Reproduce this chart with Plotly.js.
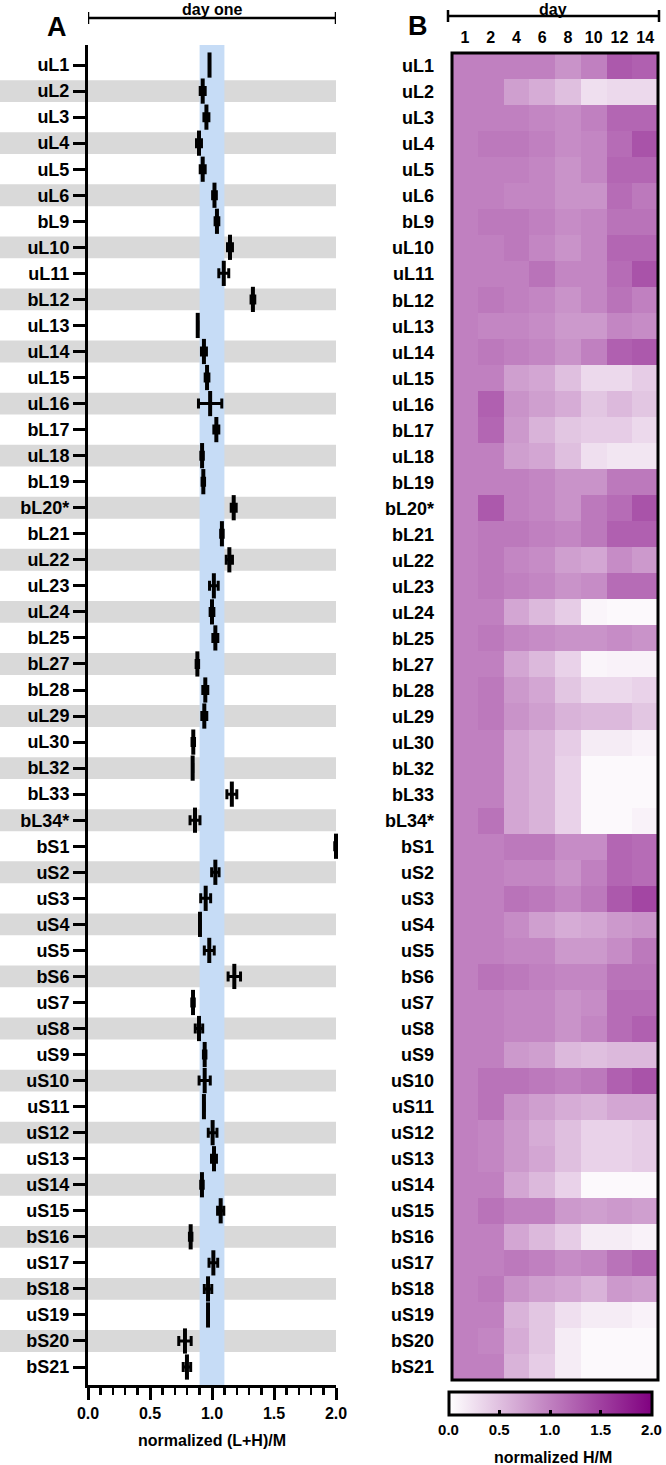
<!DOCTYPE html>
<html>
<head>
<meta charset="utf-8">
<script src="https://cdn.plot.ly/plotly-3.0.1.min.js"></script>
<style>
  body { margin: 0; background: #fff; }
  #chart { width: 666px; height: 1465px; }
</style>
</head>
<body>
<div id="chart"></div>
<script>
// ribosomal proteins, top to bottom
const proteins = [
    'uL1', 'uL2', 'uL3', 'uL4', 'uL5', 'uL6', 'bL9', 'uL10', 'uL11', 'bL12',
    'uL13', 'uL14', 'uL15', 'uL16', 'bL17', 'uL18', 'bL19', 'bL20*', 'bL21', 'uL22',
    'uL23', 'uL24', 'bL25', 'bL27', 'bL28', 'uL29', 'uL30', 'bL32', 'bL33', 'bL34*',
    'bS1', 'uS2', 'uS3', 'uS4', 'uS5', 'bS6', 'uS7', 'uS8', 'uS9', 'uS10',
    'uS11', 'uS12', 'uS13', 'uS14', 'uS15', 'bS16', 'uS17', 'bS18', 'uS19', 'bS20',
    'bS21'
];

// panel A : day one normalized (L+H)/M, mean and SD
const dayOneMean = [
    0.98, 0.925, 0.955, 0.895, 0.925, 1.02, 1.04, 1.145, 1.095, 1.33,
    0.885, 0.935, 0.96, 0.985, 1.035, 0.92, 0.93, 1.175, 1.08, 1.14,
    1.015, 1.0, 1.027, 0.882, 0.946, 0.938, 0.849, 0.844, 1.16, 0.863,
    2.0, 1.027, 0.949, 0.903, 0.978, 1.18, 0.847, 0.895, 0.941, 0.941,
    0.935, 1.005, 1.016, 0.919, 1.07, 0.828, 1.011, 0.968, 0.968, 0.782,
    0.798
];
const dayOneSD = [
    0, 0.02, 0.02, 0.02, 0.02, 0.015, 0.015, 0.02, 0.04, 0.015,
    0, 0.02, 0.015, 0.094, 0.02, 0.01, 0.01, 0.02, 0.01, 0.025,
    0.035, 0.015, 0.02, 0.01, 0.02, 0.02, 0.01, 0, 0.04, 0.04,
    0.01, 0.03, 0.04, 0, 0.04, 0.05, 0.01, 0.03, 0.01, 0.045,
    0, 0.035, 0.02, 0.01, 0.025, 0.01, 0.035, 0.03, 0, 0.05,
    0.03
];

// panel B : normalized H/M per day
const days = ['1', '2', '4', '6', '8', '10', '12', '14'];
const heavyOverMedium = [
    [1.0, 1.0, 1.0, 1.0, 0.85, 1.0, 1.3, 1.25],      // uL1
    [1.0, 1.0, 0.75, 0.65, 0.5, 0.25, 0.3, 0.3],     // uL2
    [1.0, 1.0, 1.0, 0.95, 0.9, 1.0, 1.2, 1.2],       // uL3
    [1.0, 1.05, 1.05, 1.0, 0.9, 0.95, 1.15, 1.35],   // uL4
    [1.0, 1.0, 1.0, 0.95, 0.85, 0.95, 1.2, 1.2],     // uL5
    [1.0, 1.0, 0.95, 0.95, 0.85, 0.85, 1.15, 1.05],  // uL6
    [1.0, 1.05, 1.05, 1.0, 0.9, 0.95, 1.1, 1.1],     // bL9
    [1.0, 1.0, 1.05, 0.95, 0.85, 0.95, 1.2, 1.2],    // uL10
    [1.0, 1.0, 1.0, 1.1, 0.95, 0.95, 1.15, 1.35],    // uL11
    [1.0, 1.05, 1.0, 0.95, 0.85, 0.95, 1.1, 1.0],    // bL12
    [1.0, 0.95, 0.95, 0.9, 0.8, 0.8, 0.95, 0.9],     // uL13
    [1.0, 1.05, 1.0, 0.95, 0.85, 1.0, 1.25, 1.3],    // uL14
    [1.0, 1.0, 0.75, 0.7, 0.5, 0.3, 0.3, 0.4],       // uL15
    [1.0, 1.25, 0.85, 0.75, 0.65, 0.45, 0.55, 0.45], // uL16
    [1.0, 1.2, 0.8, 0.6, 0.45, 0.4, 0.4, 0.3],       // bL17
    [1.0, 1.0, 0.75, 0.7, 0.5, 0.25, 0.2, 0.2],      // uL18
    [1.0, 1.0, 1.0, 0.95, 0.85, 0.85, 1.05, 1.05],   // bL19
    [1.0, 1.3, 1.0, 0.95, 0.85, 1.05, 1.15, 1.35],   // bL20*
    [1.0, 1.05, 1.05, 1.0, 0.95, 1.05, 1.25, 1.25],  // bL21
    [1.0, 1.05, 0.95, 0.9, 0.75, 0.7, 0.9, 0.8],     // uL22
    [1.0, 1.05, 1.0, 0.95, 0.85, 0.9, 1.15, 1.15],   // uL23
    [1.0, 1.0, 0.7, 0.55, 0.4, 0.08, 0.05, 0.05],    // uL24
    [1.0, 1.05, 0.95, 0.9, 0.85, 0.85, 0.9, 0.85],   // bL25
    [1.0, 1.0, 0.7, 0.55, 0.35, 0.08, 0.1, 0.1],     // bL27
    [1.0, 1.05, 0.8, 0.7, 0.45, 0.3, 0.3, 0.35],     // bL28
    [1.0, 1.05, 0.85, 0.75, 0.6, 0.55, 0.55, 0.45],  // uL29
    [1.0, 1.0, 0.7, 0.6, 0.4, 0.15, 0.15, 0.1],      // uL30
    [1.0, 1.0, 0.7, 0.6, 0.35, 0.05, 0.05, 0.05],    // bL32
    [1.0, 1.0, 0.7, 0.6, 0.35, 0.05, 0.05, 0.05],    // bL33
    [1.0, 1.1, 0.7, 0.6, 0.35, 0.05, 0.05, 0.1],     // bL34*
    [1.0, 1.0, 1.05, 1.05, 0.9, 0.9, 1.2, 1.15],     // bS1
    [1.0, 1.0, 0.95, 0.95, 0.85, 1.0, 1.2, 1.15],    // uS2
    [1.0, 1.0, 1.1, 1.05, 0.95, 1.05, 1.3, 1.45],    // uS3
    [1.0, 1.0, 0.9, 0.75, 0.65, 0.7, 0.8, 0.85],     // uS4
    [1.0, 1.0, 0.95, 0.95, 0.8, 0.8, 0.9, 1.05],     // uS5
    [1.0, 1.1, 1.05, 1.0, 0.95, 0.95, 1.1, 1.1],     // bS6
    [1.0, 1.0, 0.95, 0.95, 0.85, 0.9, 1.15, 1.15],   // uS7
    [1.0, 1.0, 0.95, 0.95, 0.85, 0.95, 1.15, 1.25],  // uS8
    [1.0, 1.0, 0.8, 0.75, 0.55, 0.5, 0.55, 0.55],    // uS9
    [1.0, 1.1, 1.1, 1.05, 1.0, 1.05, 1.25, 1.35],    // uS10
    [1.0, 1.1, 0.85, 0.75, 0.65, 0.6, 0.7, 0.7],     // uS11
    [1.0, 0.95, 0.8, 0.65, 0.5, 0.35, 0.35, 0.4],    // uS12
    [1.0, 0.95, 0.8, 0.7, 0.5, 0.35, 0.35, 0.4],     // uS13
    [1.0, 1.0, 0.7, 0.55, 0.35, 0.05, 0.05, 0.05],   // uS14
    [1.0, 1.1, 1.0, 1.0, 0.8, 0.75, 0.8, 0.75],      // uS15
    [1.0, 1.0, 0.7, 0.55, 0.4, 0.15, 0.15, 0.1],     // bS16
    [1.0, 1.0, 1.05, 1.0, 0.9, 0.95, 1.1, 1.2],      // uS17
    [1.0, 1.05, 0.85, 0.75, 0.7, 0.6, 0.8, 0.75],    // bS18
    [1.0, 1.0, 0.6, 0.45, 0.25, 0.15, 0.15, 0.1],    // uS19
    [1.0, 0.95, 0.65, 0.45, 0.15, 0.05, 0.05, 0.05], // bS20
    [1.0, 1.0, 0.6, 0.4, 0.15, 0.05, 0.05, 0.05]     // bS21
];
const colorbarTicks = [0, 0.5, 1.0, 1.5, 2.0];

const W = 666, H = 1465;
const px = v => v / W;          // pixel -> paper x
const py = v => 1 - v / H;      // pixel -> paper y (from top)

const boldFont = (size) => ({ family: 'Liberation Sans, Arial, sans-serif', size: size, color: '#000', weight: 'bold' });

const dots = {
    type: 'scatter',
    mode: 'markers',
    x: dayOneMean,
    y: proteins,
    xaxis: 'x',
    yaxis: 'y',
    cliponaxis: false,
    marker: { symbol: 'line-ns', size: 18, color: '#000', line: { color: '#000', width: 4 } },
    error_x: { type: 'data', array: dayOneSD, visible: true, color: '#000', thickness: 3, width: 5 },
    hoverinfo: 'x+y'
};

const heat = {
    type: 'heatmap',
    z: heavyOverMedium,
    x: days,
    y: proteins,
    xaxis: 'x2',
    yaxis: 'y2',
    zmin: 0,
    zmax: 2,
    colorscale: [[0, '#ffffff'], [1, '#800080']],
    colorbar: {
        orientation: 'h',
        x: px(550), xanchor: 'center',
        y: py(1392), yanchor: 'top',
        lenmode: 'pixels', len: 203,
        thickness: 23,
        outlinewidth: 3, outlinecolor: '#000',
        xpad: 0, ypad: 0,
        ticks: 'inside', ticklen: 6, tickwidth: 3, tickcolor: '#000',
        tickmode: 'array',
        tickvals: colorbarTicks,
        ticktext: colorbarTicks.map(v => v.toFixed(1)),
        ticklabeloverflow: 'allow',
        tickfont: boldFont(15)
    }
};

// grey stripes on every second row in panel A
const shapes = [];
proteins.forEach((p, i) => {
    if (i % 2 === 1) {
        shapes.push({
            type: 'rect', layer: 'below',
            xref: 'x domain', yref: 'y',
            x0: -88 / 248, x1: 1,
            y0: i - 0.42, y1: i + 0.42,
            fillcolor: '#d9d9d9', line: { width: 0 }
        });
    }
});
// blue 0.9 - 1.1 band
shapes.push({
    type: 'rect', layer: 'below',
    xref: 'x', yref: 'y domain',
    x0: 0.9, x1: 1.1, y0: 0, y1: 1,
    fillcolor: '#c6dcf6', line: { width: 0 }
});
// heatmap frame
shapes.push({
    type: 'rect', xref: 'x2 domain', yref: 'y2 domain',
    x0: 0, x1: 1, y0: 0, y1: 1,
    line: { color: '#000', width: 3 }
});
// brackets on top
const bracket = (xref, x0, x1, yMid) => [
    { type: 'line', xref: xref, yref: 'paper', x0: x0, x1: x1, y0: py(yMid), y1: py(yMid), line: { color: '#000', width: 2.5 } },
    { type: 'line', xref: xref, yref: 'paper', x0: x0, x1: x0, y0: py(yMid - 6), y1: py(yMid + 6), line: { color: '#000', width: 2.5 } },
    { type: 'line', xref: xref, yref: 'paper', x0: x1, x1: x1, y0: py(yMid - 6), y1: py(yMid + 6), line: { color: '#000', width: 2.5 } }
];
shapes.push(...bracket('x', 0, 2, 18));
shapes.push(...bracket('paper', px(448), px(659), 16));

const label = (text, xref, x, yPx, size, yanchor) => ({
    text: text, xref: xref, yref: 'paper', x: x, y: py(yPx),
    xanchor: 'center', yanchor: yanchor || 'middle', borderpad: 0,
    showarrow: false, font: boldFont(size)
});
const annotations = [
    label('A', 'paper', px(57), 27, 27),
    label('B', 'paper', px(418), 26, 27),
    label('day one', 'x', 1, 0, 16, 'top'),
    label('day', 'paper', px(553), 0, 16, 'top'),
    label('normalized H/M', 'paper', px(553), 1457, 16)
];

const layout = {
    width: W,
    height: H,
    margin: { l: 0, r: 0, t: 0, b: 0 },
    paper_bgcolor: '#fff',
    plot_bgcolor: 'rgba(0,0,0,0)',
    showlegend: false,
    xaxis: {
        domain: [px(88), px(336)],
        anchor: 'y',
        range: [0, 2],
        showgrid: false, zeroline: false,
        showline: true, linewidth: 3, linecolor: '#000',
        ticks: 'outside', ticklen: 12, tickwidth: 3, tickcolor: '#000',
        dtick: 0.5, tick0: 0, tickformat: '.1f',
        minor: { dtick: 0.1, ticks: 'outside', ticklen: 7, tickwidth: 2.5, tickcolor: '#000', showgrid: false },
        tickfont: boldFont(16),
        title: { text: 'normalized (L+H)/M', font: boldFont(16), standoff: 14 }
    },
    yaxis: {
        domain: [py(1385), py(45)],
        anchor: 'x',
        type: 'category',
        range: [50.69, -0.77],
        showgrid: false, zeroline: false,
        showline: true, linewidth: 3, linecolor: '#000',
        ticks: 'outside', ticklen: 12, tickwidth: 3, tickcolor: '#000',
        tickfont: boldFont(18)
    },
    xaxis2: {
        domain: [px(452), px(658)],
        anchor: 'y2',
        side: 'top',
        type: 'category',
        range: [-0.5, 7.5],
        showgrid: false, zeroline: false, showline: false,
        ticks: '',
        ticklabelstandoff: 6,
        tickfont: boldFont(16)
    },
    yaxis2: {
        domain: [py(1380), py(53)],
        anchor: 'x2',
        type: 'category',
        range: [50.5, -0.5],
        showgrid: false, zeroline: false, showline: false,
        ticks: '',
        ticklabelstandoff: 17,
        tickfont: boldFont(18)
    },
    shapes: shapes,
    annotations: annotations
};

Plotly.newPlot('chart', [dots, heat], layout, { staticPlot: true, displayModeBar: false });
</script>
</body>
</html>
